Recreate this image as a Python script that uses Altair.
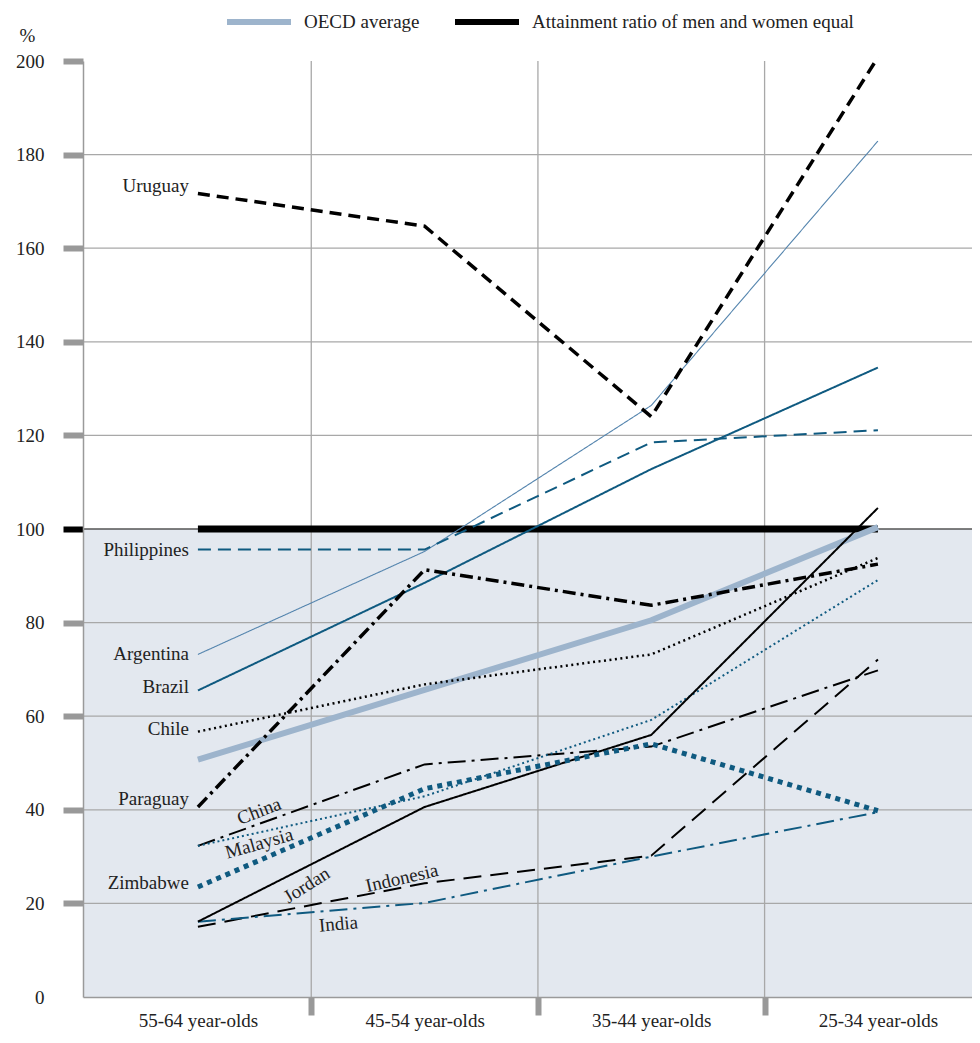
import json
import pandas as pd
import altair as alt

# ---------------- data ----------------
categories = ["55-64 year-olds", "45-54 year-olds", "35-44 year-olds", "25-34 year-olds"]
x_index = [0, 1, 2, 3]

oecd_average = [50.7, 65.6, 80.5, 100.4]
equal_ratio = [100, 100, 100, 100]

uruguay = [171.7, 164.7, 124.0, 200.8]
argentina = [73.2, 95.2, 126.4, 182.9]
philippines = [95.6, 95.6, 118.5, 121.1]
brazil = [65.5, 88.5, 112.8, 134.5]
chile = [56.7, 66.8, 73.2, 93.8]
paraguay = [40.6, 91.3, 83.7, 92.5]
china = [32.3, 49.7, 53.5, 69.8]
malaysia = [32.3, 42.9, 59.2, 89.1]
zimbabwe = [23.5, 44.5, 54.1, 39.8]
jordan = [16.1, 40.6, 56.0, 104.5]
indonesia = [15.0, 24.3, 30.2, 72.1]
india = [16.1, 20.1, 30.0, 39.5]

series_names = ["Argentina", "Philippines", "Brazil", "Chile", "China", "Malaysia",
                "Indonesia", "India", "Jordan", "Zimbabwe", "Paraguay", "Uruguay"]
series_values = [argentina, philippines, brazil, chile, china, malaysia,
                 indonesia, india, jordan, zimbabwe, paraguay, uruguay]

legend_names = ["OECD average", "Attainment ratio of men and women equal"]

left_labels = ["Uruguay", "Philippines", "Argentina", "Brazil", "Chile", "Paraguay", "Zimbabwe"]
left_label_y = [173.2, 95.6, 73.2, 66.3, 57.2, 42.3, 24.3]

inline_labels = ["China", "Malaysia", "Jordan", "Indonesia", "India"]
inline_label_x = [0.27, 0.27, 0.48, 0.90, 0.62]
inline_label_y = [39.7, 32.8, 23.9, 25.4, 15.6]
inline_label_angle = [339, 344, 328, 347, 355]

y_ticks = [0, 20, 40, 60, 80, 100, 120, 140, 160, 180, 200]
grid_y = [20, 40, 60, 80, 120, 140, 160, 180]
grid_x = [0.5, 1.5, 2.5]
x_domain = [-0.507, 3.415]
y_domain = [0, 200]
shade_low = [0]
shade_high = [100]

# ---------------- styles ----------------
FONT = "Liberation Serif"
TEXT = "#222222"
BLUE = "#0f5a80"
OECD_COLOR = "#9db4cc"
styles = {
    "Uruguay": dict(color="#000000", width=3.5, dash=[12, 7]),
    "Argentina": dict(color="#5585ae", width=1.1, dash=[1, 0]),
    "Philippines": dict(color=BLUE, width=2, dash=[13, 7]),
    "Brazil": dict(color=BLUE, width=2, dash=[1, 0]),
    "Chile": dict(color="#000000", width=2.5, dash=[2, 3.5]),
    "Paraguay": dict(color="#000000", width=3.5, dash=[13, 5, 3, 5]),
    "China": dict(color="#000000", width=2, dash=[18, 6, 3, 6]),
    "Malaysia": dict(color=BLUE, width=2, dash=[2, 3]),
    "Zimbabwe": dict(color=BLUE, width=5, dash=[5, 5]),
    "Jordan": dict(color="#000000", width=2, dash=[1, 0]),
    "Indonesia": dict(color="#000000", width=2, dash=[18, 9]),
    "India": dict(color=BLUE, width=2, dash=[18, 6, 3, 6]),
}

# ---------------- tables ----------------
rows = []
for name, vals in zip(series_names, series_values):
    for i, v in zip(x_index, vals):
        rows.append({"series": name, "idx": i, "value": v})
lines_df = pd.DataFrame(rows)

legend_df = pd.DataFrame(
    [{"series": legend_names[0], "idx": i, "value": v} for i, v in zip(x_index, oecd_average)]
    + [{"series": legend_names[1], "idx": i, "value": v} for i, v in zip(x_index, equal_ratio)]
)

left_df = pd.DataFrame({"name": left_labels, "idx": [x_index[0]] * len(left_labels),
                        "label_y": left_label_y})
inline_df = pd.DataFrame({"name": inline_labels, "idx": inline_label_x,
                          "label_y": inline_label_y, "angle": inline_label_angle})
shade_df = pd.DataFrame({"x0": [x_domain[0]], "x1": [x_domain[1]],
                         "y0": shade_low, "y1": shade_high})
gridy_df = pd.DataFrame({"g": grid_y})
grid100_df = pd.DataFrame({"g": shade_high})
gridx_df = pd.DataFrame({"g": grid_x})

# ---------------- scales / axes ----------------
x_values = sorted(x_index + grid_x)
label_expr = "datum.value % 1 == 0 ? " + json.dumps(categories) + "[datum.value] : ''"

xscale = alt.Scale(domain=x_domain, nice=False, zero=False)
yscale = alt.Scale(domain=y_domain, nice=False)

xaxis = alt.Axis(
    title="", values=x_values, labelExpr=label_expr, grid=False,
    labelFont=FONT, labelFontSize=19, labelColor=TEXT, labelOverlap=False, labelFlush=False,
    labelBaseline="top", labelPadding=-4,
    tickSize=18, tickWidth=6, tickColor="#999999",
    tickOpacity={"condition": {"test": "datum.value % 1 == 0", "value": 0}, "value": 1},
    domainColor="#9a9a9a", domainWidth=1.5, zindex=1,
)
yaxis = alt.Axis(
    title="%", values=y_ticks, grid=False, format="d",
    labelFont=FONT, labelFontSize=19, labelColor=TEXT, labelPadding=19, labelFlush=False,
    tickSize=20, tickWidth=6,
    tickColor={"condition": {"test": "datum.value == 100", "value": "#000000"}, "value": "#999999"},
    tickOpacity={"condition": {"test": "datum.value == 0", "value": 0}, "value": 1},
    domainColor="#9a9a9a", domainWidth=1.5, zindex=1,
    titleFont=FONT, titleFontSize=19, titleFontWeight="normal", titleColor=TEXT,
    titleAngle=0, titleAlign="center", titleBaseline="middle", titleX=-56, titleY=-26,
)

def X(field):
    return alt.X(field, type="quantitative", scale=xscale, axis=xaxis)

def Y(field):
    return alt.Y(field, type="quantitative", scale=yscale, axis=yaxis)

# ---------------- layers ----------------
layers = []

layers.append(
    alt.Chart(shade_df).mark_rect(color="#e3e8ef").encode(
        x=X("x0"), x2="x1", y=Y("y0"), y2="y1")
)
layers.append(
    alt.Chart(gridy_df).mark_rule(color="#a8a8a8", strokeWidth=1.3).encode(y=Y("g"))
)
layers.append(
    alt.Chart(gridx_df).mark_rule(color="#a8a8a8", strokeWidth=1.3).encode(x=X("g"))
)
layers.append(
    alt.Chart(grid100_df).mark_rule(color="#555555", strokeWidth=1.6).encode(y=Y("g"))
)

legend = alt.Legend(
    title=None, orient="none", direction="horizontal", legendX=141, legendY=-74,
    symbolType="stroke", symbolStrokeWidth=6, symbolSize=4096,
    labelFont=FONT, labelFontSize=19, labelColor=TEXT, labelOffset=10, labelLimit=0,
    columnPadding=23, padding=0,
)
color_enc = alt.Color("series:N", scale=alt.Scale(domain=legend_names,
                                                  range=[OECD_COLOR, "#000000"]),
                      legend=legend)

layers.append(
    alt.Chart(legend_df).transform_filter(alt.datum.series == legend_names[1])
    .mark_line(strokeWidth=7, strokeCap="butt").encode(
        x=X("idx"), y=Y("value"), color=color_enc)
)
layers.append(
    alt.Chart(legend_df).transform_filter(alt.datum.series == legend_names[0])
    .mark_line(strokeWidth=6, strokeCap="butt").encode(
        x=X("idx"), y=Y("value"), color=color_enc)
)

for name in series_names:
    s = styles[name]
    layers.append(
        alt.Chart(lines_df).transform_filter(alt.datum.series == name)
        .mark_line(color=s["color"], strokeWidth=s["width"], strokeDash=s["dash"],
                   strokeCap="butt", clip=False)
        .encode(x=X("idx"), y=Y("value"))
    )

layers.append(
    alt.Chart(left_df).mark_text(align="right", baseline="middle", dx=-9,
                                 font=FONT, fontSize=19, color=TEXT)
    .encode(x=X("idx"), y=Y("label_y"), text="name:N")
)
layers.append(
    alt.Chart(inline_df).mark_text(align="center", baseline="middle",
                                   font=FONT, fontSize=19, color=TEXT)
    .encode(x=X("idx"), y=Y("label_y"), text="name:N",
            angle=alt.Angle("angle:Q", scale=None))
)

chart = alt.layer(*layers).properties(
    width=889, height=936,
    autosize=alt.AutoSizeParams(type="none"),
    padding={"left": 75, "top": 53, "right": 0, "bottom": 34},
    background="white",
).configure(font=FONT).configure_view(strokeWidth=0)

chart.save("out.html", embed_options={"renderer": "svg", "actions": False})
